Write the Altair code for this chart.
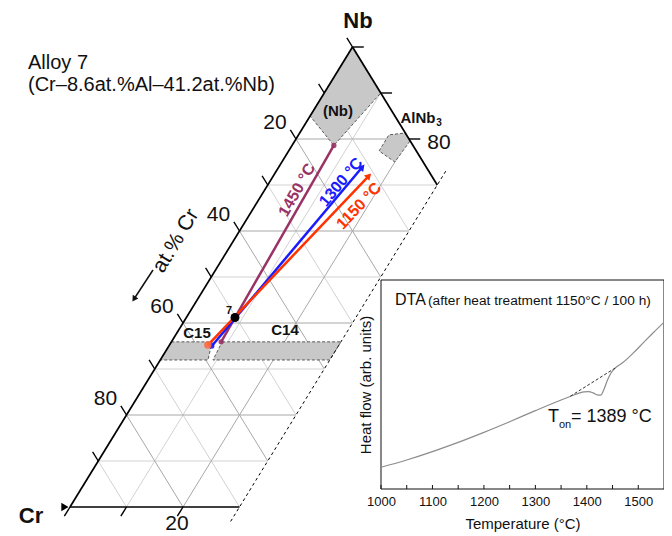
import math
import altair as alt
import pandas as pd

# ======================= data =======================
title_lines = ["Alloy 7", "(Cr\u20138.6at.%Al\u201341.2at.%Nb)"]
alloy_name = "7"
alloy_nb, alloy_al = 0.412, 0.086

grid_levels = [0.1, 0.2, 0.3, 0.4, 0.5, 0.6, 0.7, 0.8, 0.9]
major_levels = [0.2, 0.4, 0.6, 0.8]
al_cut = 0.30

left_tick_cr = [0.0, 0.1, 0.2, 0.3, 0.4, 0.5, 0.6, 0.7, 0.8, 0.9]
right_tick_nb = [1.0, 0.9, 0.8]
bottom_tick_al = [0.0, 0.1, 0.2]
left_label_cr = [0.2, 0.4, 0.6, 0.8]
left_label_text = ["20", "40", "60", "80"]
right_label_nb = [0.8]
right_label_text = ["80"]
bottom_label_al = [0.2]
bottom_label_text = ["20"]

phase_names = ["(Nb)", "AlNb3", "C15", "C14"]
phase_nb = [[1.0, 0.85, 0.786, 0.90],
            [0.774, 0.809, 0.813, 0.796, 0.750],
            [0.359, 0.359, 0.3196, 0.3196],
            [0.359, 0.359, 0.3196, 0.3196]]
phase_al = [[0.0, 0.0, 0.074, 0.10],
            [0.160, 0.160, 0.187, 0.204, 0.200],
            [0.0, 0.072, 0.0844, 0.0],
            [0.0897, 0.30, 0.30, 0.0933]]

tie_labels = ["1450 \u00b0C", "1300 \u00b0C", "1150 \u00b0C"]
tie_nb_start = [0.359, 0.350, 0.352]
tie_al_start = [0.088, 0.076, 0.068]
tie_nb_end = [0.786, 0.739, 0.720]
tie_al_end = [0.074, 0.148, 0.169]
tie_colors = ["#993366", "#1a1aff", "#ff3300"]
tie_arrow = [False, True, True]

dta_T = [1000, 1050, 1100, 1150, 1200, 1250, 1300, 1350, 1370, 1385, 1395, 1403,
         1412, 1420, 1427, 1433, 1440, 1447, 1455, 1470, 1490, 1510, 1530, 1550]
dta_v = [10.4, 13.9, 17.9, 22.3, 27.1, 32.2, 37.5, 42.6, 44.5, 45.9, 46.5, 46.6,
         46.0, 45.0, 44.9, 47.5, 52.0, 55.5, 57.8, 60.5, 65.0, 70.0, 75.0, 79.8]
dta_base_T = [1368, 1456]
dta_base_v = [44.4, 58.0]
dta_T_range = [1000, 1550]
dta_v_range = [0, 100]
dta_major = [1000, 1100, 1200, 1300, 1400, 1500]
dta_minor = [1050, 1150, 1250, 1350, 1450]
dta_title = "DTA"
dta_subtitle = "(after heat treatment 1150\u00b0C / 100 h)"
onset_parts = ["T", "on", "= 1389 \u00b0C"]

# ======================= layout =======================
FONT = "Liberation Sans"
W, H = 656, 520
CR_X, CR_Y = 62, 499          # Cr corner (chart px)
PX_X, PX_Y = 565, 460         # px per unit of X = Al + Nb/2, and per unit Nb
IN_X = [373, 656]             # inset plot range (chart px)
IN_Y = [481, 272]

xs_t = alt.Scale(domain=[0, 1], range=[CR_X, CR_X + PX_X], nice=False, zero=False)
ys_t = alt.Scale(domain=[0, 1], range=[CR_Y, CR_Y - PX_Y], nice=False, zero=False)
xs_i = alt.Scale(domain=dta_T_range, range=IN_X, nice=False, zero=False)
ys_i = alt.Scale(domain=dta_v_range, range=IN_Y, nice=False, zero=False)


def tX(nb, al):
    return al + nb / 2.0


def ref_to_t(xr, yr):
    return ((xr - 8 - CR_X) / PX_X, (CR_Y - (yr - 8)) / PX_Y)


def ref_to_i(xr, yr):
    T = dta_T_range[0] + (xr - 8 - IN_X[0]) * (dta_T_range[1] - dta_T_range[0]) / (IN_X[1] - IN_X[0])
    v = (IN_Y[0] - (yr - 8)) * (dta_v_range[1] - dta_v_range[0]) / (IN_Y[0] - IN_Y[1])
    return T, v


def XT(f="X"):
    return alt.X(f"{f}:Q", scale=xs_t, axis=None)


def YT(f="Y"):
    return alt.Y(f"{f}:Q", scale=ys_t, axis=None)


def seg_df(rows):
    df = pd.DataFrame(rows, columns=["nb1", "al1", "nb2", "al2"] + (["g"] if len(rows[0]) > 4 else []))
    df["X1"] = tX(df.nb1, df.al1)
    df["Y1"] = df.nb1
    df["X2"] = tX(df.nb2, df.al2)
    df["Y2"] = df.nb2
    return df


def rules(df, **kw):
    return alt.Chart(df).mark_rule(**kw).encode(
        x=XT("X1"), y=YT("Y1"), x2="X2:Q", y2="Y2:Q")


# ---- grid ----
grid_rows = []
for v in grid_levels:
    mj = any(abs(v - m) < 1e-9 for m in major_levels)
    grid_rows.append((v, 0.0, v, min(al_cut, 1 - v), mj))
    if v < al_cut - 1e-9:
        grid_rows.append((0.0, v, 1 - v, v, mj))
    a2 = min(al_cut, 1 - v)
    grid_rows.append((1 - v, 0.0, 1 - v - a2, a2, mj))
grid_df = seg_df(grid_rows)
grid_minor = rules(grid_df[~grid_df.g], color="#d2d2d2", strokeWidth=1)
grid_major = rules(grid_df[grid_df.g], color="#a8a8a8", strokeWidth=1)

# ---- phase regions ----
poly_rows, outline_rows = [], []
for name, nbs, als in zip(phase_names, phase_nb, phase_al):
    for i, (n, a) in enumerate(zip(nbs, als)):
        poly_rows.append((name, i, tX(n, a), n))
        outline_rows.append((name, i, tX(n, a), n))
    outline_rows.append((name, len(nbs), tX(nbs[0], als[0]), nbs[0]))
poly_df = pd.DataFrame(poly_rows, columns=["name", "idx", "X", "Y"])
outline_df = pd.DataFrame(outline_rows, columns=["name", "idx", "X", "Y"])
region_fill = alt.Chart(poly_df).mark_line(fill="#c8c8c8", strokeOpacity=0).encode(
    x=XT(), y=YT(), detail="name:N", order="idx:Q")
region_line = alt.Chart(outline_df).mark_line(color="#5a5a5a", strokeWidth=1, strokeDash=[3, 2]).encode(
    x=XT(), y=YT(), detail="name:N", order="idx:Q")

# ---- edges, ticks ----
edges = rules(seg_df([(0.0, 0.0, 1.0, 0.0), (1.0, 0.0, 1 - al_cut, al_cut), (0.0, 0.0, 0.0, al_cut)]),
              color="black", strokeWidth=1.7)
cut_line = rules(seg_df([(1 - al_cut + 0.03, al_cut, -0.035, al_cut)]),
                 color="black", strokeWidth=1, strokeDash=[3, 3])
TK = 0.02
tick_rows = [(1 - c, 0.0, 1 - c + TK, -TK) for c in left_tick_cr]
tick_rows += [(n, 1 - n, n, 1 - n + TK) for n in right_tick_nb]
tick_rows += [(0.0, a, -TK, a) for a in bottom_tick_al]
ticks = rules(seg_df(tick_rows), color="black", strokeWidth=1.4)
cr_arrow = alt.Chart(pd.DataFrame({"X": [tX(0, -0.009)], "Y": [0.0]})).mark_point(
    shape="triangle-right", filled=True, color="black", size=70, opacity=1).encode(x=XT(), y=YT())


# ---- tick labels ----
def tick_labels(nbs, als, texts, dx, dy):
    df = pd.DataFrame({"X": [tX(n, a) for n, a in zip(nbs, als)], "Y": nbs, "t": texts})
    return alt.Chart(df).mark_text(font=FONT, fontSize=21, color="#111", dx=dx, dy=dy,
                                   align="center", baseline="middle").encode(x=XT(), y=YT(), text="t:N")


lab_left = tick_labels([1 - c for c in left_label_cr], [0.0] * len(left_label_cr), left_label_text, -21, -16)
lab_right = tick_labels(right_label_nb, [1 - n for n in right_label_nb], right_label_text, 30, 4)
lab_bottom = tick_labels([0.0] * len(bottom_label_al), bottom_label_al, bottom_label_text, -6, 17)

# ---- tie lines ----
tie_df = pd.DataFrame({"lab": tie_labels, "nb1": tie_nb_start, "al1": tie_al_start,
                       "nb2": tie_nb_end, "al2": tie_al_end, "col": tie_colors, "arrow": tie_arrow})
tie_df["X1"] = tX(tie_df.nb1, tie_df.al1)
tie_df["Y1"] = tie_df.nb1
tie_df["X2"] = tX(tie_df.nb2, tie_df.al2)
tie_df["Y2"] = tie_df.nb2
tie_df["ang"] = [math.degrees(math.atan2(PX_X * (x2 - x1), PX_Y * (y2 - y1)))
                 for x1, y1, x2, y2 in zip(tie_df.X1, tie_df.Y1, tie_df.X2, tie_df.Y2)]
tie_lines = alt.Chart(tie_df).mark_rule(strokeWidth=2.5).encode(
    x=XT("X1"), y=YT("Y1"), x2="X2:Q", y2="Y2:Q", color=alt.Color("col:N", scale=None))
tie_heads = alt.Chart(tie_df[tie_df.arrow]).mark_point(shape="triangle-up", filled=True, size=55, opacity=1).encode(
    x=XT("X2"), y=YT("Y2"), color=alt.Color("col:N", scale=None), angle=alt.Angle("ang:Q", scale=None))
pdots = pd.DataFrame({
    "X": [tie_df.X1[0], tie_df.X2[0], tie_df.X1[1], tie_df.X1[2]],
    "Y": [tie_df.Y1[0], tie_df.Y2[0], tie_df.Y1[1], tie_df.Y1[2]],
    "col": [tie_colors[0], tie_colors[0], tie_colors[1], "#ff6a40"],
    "s": [28, 28, 28, 55]})
tie_dots = alt.Chart(pdots).mark_circle(opacity=0.9).encode(
    x=XT(), y=YT(), color=alt.Color("col:N", scale=None), size=alt.Size("s:Q", scale=None))
alloy_pt = alt.Chart(pd.DataFrame({"X": [tX(alloy_nb, alloy_al)], "Y": [alloy_nb]})).mark_circle(
    color="black", size=80, opacity=1).encode(x=XT(), y=YT())


# ---- annotations ----
def ann(rows, weight="normal", align="center", baseline="middle"):
    recs = []
    for t, xr, yr, sz, col, ang in rows:
        X, Y = ref_to_t(xr, yr)
        recs.append({"t": t, "X": X, "Y": Y, "sz": sz, "col": col, "ang": ang % 360})
    df = pd.DataFrame(recs)
    return alt.Chart(df).mark_text(font=FONT, fontWeight=weight, align=align, baseline=baseline).encode(
        x=XT(), y=YT(), text="t:N", size=alt.Size("sz:Q", scale=None),
        color=alt.Color("col:N", scale=None), angle=alt.Angle("ang:Q", scale=None))


ann_title = ann([(title_lines[0], 28, 69, 20, "#111", 0), (title_lines[1], 28, 91, 20, "#111", 0)],
                align="left", baseline="alphabetic")
ann_bold = ann([("Nb", 358, 21, 22, "#111", 0), ("Cr", 31, 516, 22, "#111", 0),
                ("(Nb)", 338, 111, 15, "#111", 0), ("AlNb", 418, 118, 15, "#111", 0),
                ("3", 439, 123, 10, "#111", 0), ("C15", 197, 333, 15, "#111", 0),
                ("C14", 285, 330, 15, "#111", 0), (alloy_name, 229, 311, 11, "#111", 0)], weight="bold")
tie_lab_pos = [(297, 190), (341, 182), (359, 206)]
ann_ties = ann([(lab, xr, yr, 16, col, -(90 - a))
                for lab, (xr, yr), col, a in zip(tie_labels, tie_lab_pos, tie_colors, tie_df.ang)], weight="bold")
ann_axis = ann([("at.% Cr", 176, 241, 21, "#111", -59)])
ax_a = ref_to_t(153, 270)
ax_b = ref_to_t(134, 299)
ax_arrow_df = pd.DataFrame({"X1": [ax_a[0]], "Y1": [ax_a[1]], "X2": [ax_b[0]], "Y2": [ax_b[1]],
                            "ang": [math.degrees(math.atan2(PX_X * (ax_b[0] - ax_a[0]), PX_Y * (ax_b[1] - ax_a[1]))) % 360]})
ax_arrow = rules(ax_arrow_df, color="#111", strokeWidth=1.5)
ax_head = alt.Chart(ax_arrow_df).mark_point(shape="triangle-up", filled=True, color="#111", size=45, opacity=1).encode(
    x=XT("X2"), y=YT("Y2"), angle=alt.Angle("ang:Q", scale=None))

ternary = alt.layer(grid_minor, grid_major, region_fill, region_line, cut_line, edges, ticks, cr_arrow,
                    lab_left, lab_right, lab_bottom, tie_lines, tie_heads, tie_dots, alloy_pt,
                    ann_title, ann_bold, ann_ties, ann_axis, ax_arrow, ax_head)

# ======================= inset (DTA) =======================
xa = alt.Axis(values=dta_major, format="d", offset=-(H - IN_Y[0]), domain=False, ticks=False, tickSize=0,
              grid=False, labelFont=FONT, labelFontSize=13, labelColor="#111", labelPadding=6,
              labelFlush=False, labelOverlap=False,
              title="Temperature (\u00b0C)", titleFont=FONT, titleFontSize=15, titleFontWeight="normal",
              titleColor="#111", titlePadding=8)
ya = alt.Axis(offset=-IN_X[0], labels=False, ticks=False, domain=False, grid=False,
              title="Heat flow (arb. units)", titleFont=FONT, titleFontSize=15, titleFontWeight="normal",
              titleColor="#111", titlePadding=8)


def XI(f="T"):
    return alt.X(f"{f}:Q", scale=xs_i, axis=xa)


def YI(f="v"):
    return alt.Y(f"{f}:Q", scale=ys_i, axis=ya)


frame = alt.Chart(pd.DataFrame({"T": [dta_T_range[0]], "T2": [dta_T_range[1]],
                                "v": [dta_v_range[0]], "v2": [dta_v_range[1]]})).mark_rect(
    fill="white", stroke="#111", strokeWidth=1).encode(x=XI(), x2="T2:Q", y=YI(), y2="v2:Q")
curve = alt.Chart(pd.DataFrame({"T": dta_T, "v": dta_v})).mark_line(
    color="#8c8c8c", strokeWidth=1.2, interpolate="monotone").encode(x=XI(), y=YI())
base = alt.Chart(pd.DataFrame({"T": dta_base_T, "v": dta_base_v})).mark_line(
    color="#333", strokeWidth=1, strokeDash=[3, 2]).encode(x=XI(), y=YI())
TICK_V = 4 * (dta_v_range[1] - dta_v_range[0]) / (IN_Y[0] - IN_Y[1])
itick = alt.Chart(pd.DataFrame({"T": dta_major + dta_minor, "v": 0.0, "v2": TICK_V})).mark_rule(
    color="#111", strokeWidth=1).encode(x=XI(), y=YI(), y2="v2:Q")


def iann(rows):
    recs = []
    for t, xr, yr, sz in rows:
        T, v = ref_to_i(xr, yr)
        recs.append({"t": t, "T": T, "v": v, "sz": sz})
    return alt.Chart(pd.DataFrame(recs)).mark_text(font=FONT, align="left", baseline="alphabetic", color="#111").encode(
        x=XI(), y=YI(), text="t:N", size=alt.Size("sz:Q", scale=None))


inset_text = iann([(dta_title, 395, 305, 16), (dta_subtitle, 428, 305, 13.7),
                   (onset_parts[0], 548, 422, 18), (onset_parts[1], 559, 428, 11),
                   (onset_parts[2], 571, 422, 18)])

inset = alt.layer(frame, curve, base, itick, inset_text)

chart = alt.layer(ternary, inset).resolve_scale(x="independent", y="independent").properties(
    width=W, height=H, autosize=alt.AutoSizeParams(type="none"),
    padding={"left": 0, "top": 0, "right": 0, "bottom": 8}
).configure_view(stroke=None)

chart.save("out.html", embed_options={"renderer": "svg", "actions": False})
